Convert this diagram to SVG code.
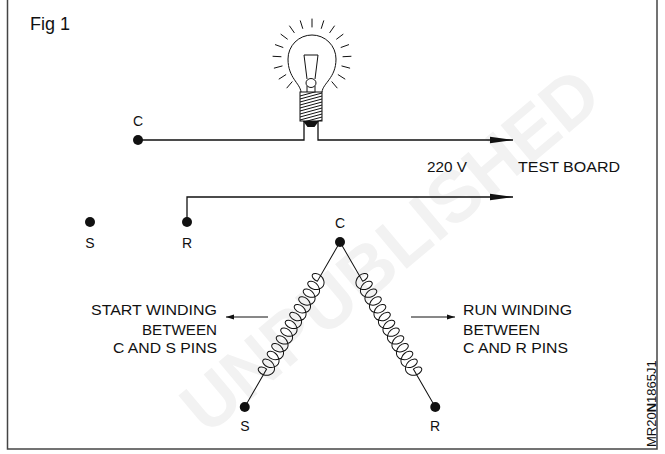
<svg xmlns="http://www.w3.org/2000/svg" width="665" height="454" viewBox="0 0 665 454">
  <style>
    .wire { fill: none; stroke: #111; stroke-width: 1.3; }
    .thin { fill: none; stroke: #111; stroke-width: 1; }
    .pin { fill: #111; }
    .lbl { font-family: "Liberation Sans", Arial, sans-serif; font-size: 14px; fill: #111; }
    .mark { font-family: "Liberation Sans", Arial, sans-serif; font-weight: bold; font-size: 72px; fill: #f2f2f2; }
  </style>
  <defs>
    <marker id="arrowBig" markerUnits="userSpaceOnUse" markerWidth="24" markerHeight="8" refX="23" refY="4" orient="auto">
      <path d="M0,0.7 L23,4 L0,7.3 Z" fill="#111"/>
    </marker>
    <marker id="arrowSmall" markerUnits="userSpaceOnUse" markerWidth="9" markerHeight="6" refX="8" refY="3" orient="auto">
      <path d="M0,0.6 L8,3 L0,5.4 Z" fill="#111"/>
    </marker>
    <clipPath id="screwClip">
      <rect x="300" y="92" width="22" height="29"/>
    </clipPath>
    <!-- winding lead + coil, laid out along +x from the common pin -->
    <path id="coil" class="thin" d="M0,0 L45.25,0 c 0.75,-3.93 -1.12,-7.5 -3.25,-7.5
      c -2.13,0 -4,3.57 -3.25,7.5 c 0.75,3.93 4.12,7.5 7.75,7.5 c 3.63,0 7,-3.57 7.75,-7.5 c 0.75,-3.93 -1.12,-7.5 -3.25,-7.5
      c -2.13,0 -4,3.57 -3.25,7.5 c 0.75,3.93 4.12,7.5 7.75,7.5 c 3.63,0 7,-3.57 7.75,-7.5 c 0.75,-3.93 -1.12,-7.5 -3.25,-7.5
      c -2.13,0 -4,3.57 -3.25,7.5 c 0.75,3.93 4.12,7.5 7.75,7.5 c 3.63,0 7,-3.57 7.75,-7.5 c 0.75,-3.93 -1.12,-7.5 -3.25,-7.5
      c -2.13,0 -4,3.57 -3.25,7.5 c 0.75,3.93 4.12,7.5 7.75,7.5 c 3.63,0 7,-3.57 7.75,-7.5 c 0.75,-3.93 -1.12,-7.5 -3.25,-7.5
      c -2.13,0 -4,3.57 -3.25,7.5 c 0.75,3.93 4.12,7.5 7.75,7.5 c 3.63,0 7,-3.57 7.75,-7.5 c 0.75,-3.93 -1.12,-7.5 -3.25,-7.5
      c -2.13,0 -4,3.57 -3.25,7.5 c 0.75,3.93 4.12,7.5 7.75,7.5 c 3.63,0 7,-3.57 7.75,-7.5 c 0.75,-3.93 -1.12,-7.5 -3.25,-7.5
      c -2.13,0 -4,3.57 -3.25,7.5 c 0.75,3.93 4.12,7.5 7.75,7.5 c 3.63,0 7,-3.57 7.75,-7.5 c 0.75,-3.93 -1.12,-7.5 -3.25,-7.5
      c -2.13,0 -4,3.57 -3.25,7.5 c 0.75,3.93 4.12,7.5 7.75,7.5 c 3.63,0 7,-3.57 7.75,-7.5 c 0.75,-3.93 -1.12,-7.5 -3.25,-7.5
      c -2.13,0 -4,3.57 -3.25,7.5 c 0.75,3.93 4.12,7.5 7.75,7.5 c 3.63,0 7,-3.57 7.75,-7.5 c 0.75,-3.93 -1.12,-7.5 -3.25,-7.5
      c -2.13,0 -4,3.57 -3.25,7.5 c 0.75,3.93 4.12,7.5 7.75,7.5 c 3.63,0 7,-3.57 7.75,-7.5 c 0.75,-3.93 -1.12,-7.5 -3.25,-7.5
      c -2.13,0 -4,3.57 -3.25,7.5 c 0.75,3.93 4.12,7.5 7.75,7.5 c 3.63,0 7,-3.57 7.75,-7.5 c 0.75,-3.93 -1.12,-7.5 -3.25,-7.5
      c -2.13,0 -4,3.57 -3.25,7.5 c 0.75,3.93 4.12,7.5 7.75,7.5 c 3.63,0 7,-3.57 7.75,-7.5 c 0.75,-3.93 -1.12,-7.5 -3.25,-7.5
      c -2.13,0 -4,3.57 -3.25,7.5 L190.5,0"/>
  </defs>

  <rect width="665" height="454" fill="#fff"/>

  <!-- faint watermark -->
  <text class="mark" x="390" y="275" text-anchor="middle" transform="rotate(-40 390 250)">UNPUBLISHED</text>

  <!-- frame -->
  <rect x="7.5" y="-10" width="649.5" height="459" fill="none" stroke="#444" stroke-width="1.5"/>

  <text class="lbl" x="30" y="30" style="font-size:18px">Fig 1</text>

  <!-- lamp -->
  <g id="lamp">
    <g class="thin" stroke-linecap="round">
      <path d="M312,27 L312,19 M321.3,28.4 L323.7,20.8 M329.8,32.6 L334.4,26 M336.6,39.1 L343,34.3 M341.1,47.4 L348.6,44.7 M343,56.7 L351,56.3 M341.9,66 L349.7,68.1 M338.2,74.7 L344.9,79 M331.9,81.8 L337.1,87.9"/>
      <path d="M302.7,28.4 L300.3,20.8 M294.2,32.6 L289.6,26 M287.4,39.1 L281,34.3 M282.9,47.4 L275.4,44.7 M281,56.7 L273,56.3 M282.1,66 L274.3,68.1 M285.8,74.7 L279.1,79 M292.1,81.8 L286.9,87.9"/>
    </g>
    <!-- glass -->
    <path class="thin" d="M301,92 C300,83 288,78 288,59 A24,24 0 0 1 336,59 C336,78 323,83 322,92"/>
    <!-- filament support -->
    <path class="thin" d="M304,55 L318,55 L315,79 M304,55 L307,79"/>
    <ellipse class="thin" cx="311" cy="83" rx="5" ry="4.5"/>
    <path class="thin" d="M307,86 L307,92 M315,86 L315,92"/>
    <!-- screw cap -->
    <rect class="thin" x="300" y="92" width="22" height="29"/>
    <g clip-path="url(#screwClip)" class="thin">
      <path d="M300,96 L322,90 M300,99 L322,93 M300,102 L322,96 M300,105 L322,99 M300,108 L322,102 M300,111 L322,105 M300,114 L322,108 M300,117 L322,111 M300,120 L322,114 M300,123 L322,117 M300,126 L322,120"/>
    </g>
    <path d="M303,121 L319,121 L314.5,127 L307.5,127 Z" fill="#111"/>
  </g>

  <!-- connectors -->
  <g id="connectors">
    <path class="wire" d="M138,140 H304 V121"/>
    <path class="wire" d="M318,121 V140 H513" marker-end="url(#arrowBig)"/>
    <path class="wire" d="M187,222 V197 H513" marker-end="url(#arrowBig)"/>
    <use href="#coil" transform="translate(340,242) rotate(60)"/>
    <use href="#coil" transform="translate(340,242) scale(-1,1) rotate(60)"/>
    <path class="thin" d="M268,317 H226" marker-end="url(#arrowSmall)"/>
    <path class="thin" d="M411,317 H455" marker-end="url(#arrowSmall)"/>
  </g>

  <!-- test board pins -->
  <g id="pin-c-top">
    <circle class="pin" cx="138" cy="140" r="5"/>
    <text class="lbl" x="138" y="126" text-anchor="middle">C</text>
  </g>
  <g id="pin-s-top">
    <circle class="pin" cx="90" cy="222" r="5"/>
    <text class="lbl" x="90" y="248" text-anchor="middle">S</text>
  </g>
  <g id="pin-r-top">
    <circle class="pin" cx="187" cy="222" r="5"/>
    <text class="lbl" x="187" y="248" text-anchor="middle">R</text>
  </g>
  <g id="supply">
    <text class="lbl" x="427" y="172" textLength="40" lengthAdjust="spacingAndGlyphs">220 V</text>
    <text class="lbl" x="518" y="172" textLength="102" lengthAdjust="spacingAndGlyphs">TEST BOARD</text>
  </g>

  <!-- compressor terminals -->
  <g id="pin-c">
    <circle class="pin" cx="340" cy="242" r="5"/>
    <text class="lbl" x="340" y="228" text-anchor="middle">C</text>
  </g>
  <g id="pin-s">
    <circle class="pin" cx="244.75" cy="407" r="5"/>
    <text class="lbl" x="245" y="431" text-anchor="middle">S</text>
  </g>
  <g id="pin-r">
    <circle class="pin" cx="435.25" cy="407" r="5"/>
    <text class="lbl" x="435" y="431" text-anchor="middle">R</text>
  </g>

  <g id="start-winding-label">
    <text class="lbl" x="217" y="315" text-anchor="end" textLength="126" lengthAdjust="spacingAndGlyphs">START WINDING</text>
    <text class="lbl" x="217" y="334.5" text-anchor="end" textLength="75" lengthAdjust="spacingAndGlyphs">BETWEEN</text>
    <text class="lbl" x="217" y="353" text-anchor="end" textLength="104" lengthAdjust="spacingAndGlyphs">C AND S PINS</text>
  </g>
  <g id="run-winding-label">
    <text class="lbl" x="463" y="315" textLength="109" lengthAdjust="spacingAndGlyphs">RUN WINDING</text>
    <text class="lbl" x="463" y="334.5" textLength="77" lengthAdjust="spacingAndGlyphs">BETWEEN</text>
    <text class="lbl" x="463" y="353" textLength="105" lengthAdjust="spacingAndGlyphs">C AND R PINS</text>
  </g>

  <text class="lbl" transform="translate(656,447) rotate(-90)" style="font-size:13px">MR20<tspan font-weight="bold">N</tspan>1865J1</text>
</svg>
